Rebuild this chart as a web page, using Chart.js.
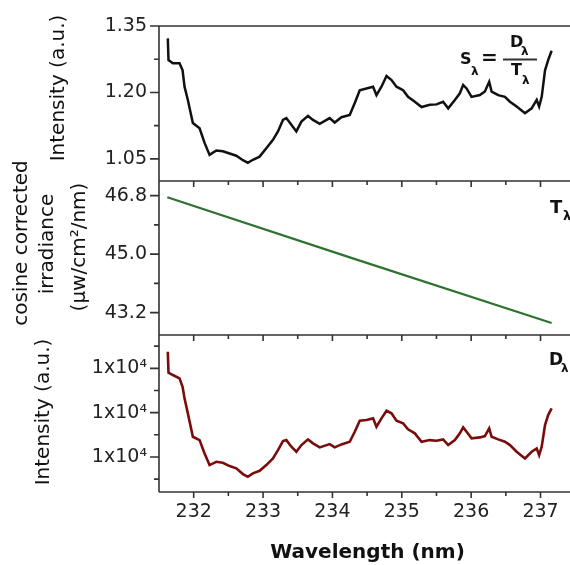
<!DOCTYPE html>
<html>
<head>
<meta charset="utf-8">
<script src="https://cdn.jsdelivr.net/npm/chart.js@4/dist/chart.umd.min.js"></script>
<style>
  html, body { margin: 0; padding: 0; background: #fff; }
  canvas { display: block; }
</style>
</head>
<body>
<canvas id="spectra" width="570" height="565"></canvas>
<script>
// wavelength grid (nm) shared by the ratio and the measured signal
const wavelength = [231.627, 231.637, 231.70, 231.796, 231.84, 231.868, 231.916, 231.988, 232.085, 232.157,
  232.229, 232.326, 232.42, 232.518, 232.614, 232.71, 232.78, 232.854, 232.95, 233.047,
  233.143, 233.215, 233.287, 233.336, 233.408, 233.48, 233.553, 233.648, 233.72, 233.817,
  233.96, 234.033, 234.13, 234.25, 234.322, 234.394, 234.49, 234.586, 234.635, 234.707,
  234.78, 234.852, 234.924, 235.019, 235.09, 235.188, 235.285, 235.405, 235.5, 235.596,
  235.669, 235.765, 235.837, 235.885, 235.934, 236.006, 236.126, 236.198, 236.26, 236.295,
  236.39, 236.487, 236.559, 236.656, 236.776, 236.872, 236.945, 236.98, 237.017, 237.065,
  237.11, 237.16];

// S = D / T  (a.u.)
const ratioS = [1.322, 1.273, 1.266, 1.266, 1.250, 1.213, 1.183, 1.131, 1.119, 1.086,
  1.059, 1.069, 1.067, 1.062, 1.057, 1.047, 1.041, 1.048, 1.055, 1.074,
  1.093, 1.112, 1.138, 1.142, 1.127, 1.112, 1.134, 1.147, 1.138, 1.129,
  1.142, 1.132, 1.144, 1.149, 1.176, 1.205, 1.209, 1.213, 1.194, 1.213,
  1.237, 1.228, 1.213, 1.205, 1.190, 1.179, 1.167, 1.172, 1.173, 1.179,
  1.164, 1.183, 1.198, 1.217, 1.209, 1.190, 1.194, 1.202, 1.224, 1.202,
  1.194, 1.190, 1.179, 1.168, 1.153, 1.164, 1.183, 1.168, 1.190, 1.250,
  1.273, 1.294];

// measured signal D (a.u.)
const signalD = [14375, 13901, 13849, 13774, 13585, 13323, 12984, 12456, 12381, 12081,
  11817, 11892, 11869, 11795, 11743, 11614, 11553, 11630, 11688, 11817,
  11968, 12156, 12360, 12381, 12231, 12118, 12269, 12397, 12307, 12217,
  12291, 12217, 12284, 12343, 12569, 12817, 12833, 12871, 12682, 12871,
  13043, 12984, 12817, 12758, 12623, 12533, 12343, 12381, 12366, 12397,
  12269, 12381, 12533, 12668, 12569, 12420, 12442, 12472, 12646, 12456,
  12397, 12343, 12269, 12118, 11968, 12118, 12194, 12043, 12231, 12720,
  12946, 13097];

// cosine corrected irradiance T (uW/cm2/nm)
const tWavelength = [231.62, 234.25, 237.16];
const irradianceT = [46.75, 44.9, 42.88];

// axis ticks
const xMajor = [232, 233, 234, 235, 236, 237];
const xMinor = [232.5, 233.5, 234.5, 235.5, 236.5];
const sMajor = [1.05, 1.20, 1.35];
const sMinor = [1.125, 1.275];
const tMajor = [43.2, 45.0, 46.8];
const tMinor = [44.1, 45.9];
const dMajor = [12000, 13000, 14000];
const dMinor = [11500, 12500, 13500, 14500];

const FONT = "'DejaVu Sans', sans-serif";
Chart.defaults.font.family = FONT;
Chart.defaults.color = '#222';

const toPoints = (xs, ys) => xs.map((x, i) => ({ x: x, y: ys[i] }));
const setTicks = list => scale => { scale.ticks = list.map(v => ({ value: v })); };

function yAxis(min, max, major, order, share, fmt) {
  return {
    type: 'linear', position: 'left', stack: 'panels', stackWeight: share, weight: order,
    min: min, max: max,
    grid: { display: false, drawTicks: false },
    border: { display: false },
    afterBuildTicks: setTicks(major),
    afterFit: s => { s.width = 159; },
    ticks: { padding: 12, autoSkip: false, font: { size: 19 }, callback: fmt }
  };
}

// frame, panel separators, tick marks and labels
const frame = {
  id: 'frame',
  afterDraw(chart) {
    const { ctx, chartArea: a } = chart;
    const { x, yS, yT, yD } = chart.scales;
    ctx.save();
    ctx.strokeStyle = '#333';
    ctx.lineWidth = 1.6;

    ctx.beginPath();
    ctx.moveTo(a.left, a.top);
    ctx.lineTo(a.left, a.bottom);
    [yS.top, yS.bottom, yT.bottom, yD.bottom].forEach(h => {
      ctx.moveTo(a.left, h);
      ctx.lineTo(a.right, h);
    });
    // x ticks hang below every separator and the bottom axis
    [yS.bottom, yT.bottom, yD.bottom].forEach(h => {
      xMajor.forEach(v => { const px = x.getPixelForValue(v); ctx.moveTo(px, h); ctx.lineTo(px, h + 6); });
      xMinor.forEach(v => { const px = x.getPixelForValue(v); ctx.moveTo(px, h); ctx.lineTo(px, h + 4); });
    });
    [[yS, sMajor, sMinor], [yT, tMajor, tMinor], [yD, dMajor, dMinor]].forEach(([sc, maj, min]) => {
      maj.forEach(v => { const py = sc.getPixelForValue(v); ctx.moveTo(a.left, py); ctx.lineTo(a.left - 9, py); });
      min.forEach(v => { const py = sc.getPixelForValue(v); ctx.moveTo(a.left, py); ctx.lineTo(a.left - 5, py); });
    });
    ctx.stroke();

    ctx.fillStyle = '#111';
    const vtext = (str, bx, cy, font) => {
      ctx.save();
      ctx.translate(bx, cy);
      ctx.rotate(-Math.PI / 2);
      ctx.font = font;
      ctx.textAlign = 'center';
      ctx.textBaseline = 'alphabetic';
      ctx.fillText(str, 0, 0);
      ctx.restore();
    };
    const text = (str, lx, by, font) => {
      ctx.font = font;
      ctx.textAlign = 'left';
      ctx.textBaseline = 'alphabetic';
      ctx.fillText(str, lx, by);
    };
    const reg = '20px ' + FONT;
    vtext('Intensity (a.u.)', 64, yS.top + 62, reg);
    vtext('cosine corrected', 27, yT.top + 62, reg);
    vtext('irradiance', 53, yT.top + 63, reg);
    vtext('(\u00b5w/cm\u00b2/nm)', 85, yT.top + 66, reg);
    vtext('Intensity (a.u.)', 49, yD.top + 77, reg);

    ctx.textAlign = 'center';
    ctx.font = 'bold 20px ' + FONT;
    ctx.fillText('Wavelength (nm)', (a.left + a.right) / 2 + 3, 558);

    // S = D / T
    const b16 = 'bold 16px ' + FONT, b12 = 'bold 12px ' + FONT;
    text('S', 460, yS.top + 37.5, b16);
    text('\u03bb', 471, yS.top + 49, b12);
    text('=', 481, yS.top + 38, 'bold 20px ' + FONT);
    text('D', 510, yS.top + 21, b16);
    text('\u03bb', 521, yS.top + 29, b12);
    text('T', 511, yS.top + 49, b16);
    text('\u03bb', 522, yS.top + 58, b12);
    ctx.lineWidth = 2;
    ctx.beginPath();
    ctx.moveTo(503, yS.top + 33.5);
    ctx.lineTo(537, yS.top + 33.5);
    ctx.stroke();

    text('T', 550, yT.top + 32, 'bold 18px ' + FONT);
    text('\u03bb', 563, yT.top + 39, 'bold 13px ' + FONT);
    text('D', 549, yD.top + 30, 'bold 17px ' + FONT);
    text('\u03bb', 561, yD.top + 37, b12);
    ctx.restore();
  }
};

new Chart(document.getElementById('spectra'), {
  type: 'line',
  data: {
    datasets: [
      { label: 'S', data: toPoints(wavelength, ratioS), yAxisID: 'yS',
        borderColor: '#111', borderWidth: 2.5, pointRadius: 0, tension: 0 },
      { label: 'T', data: toPoints(tWavelength, irradianceT), yAxisID: 'yT',
        borderColor: '#2f722f', borderWidth: 2.2, pointRadius: 0, tension: 0 },
      { label: 'D', data: toPoints(wavelength, signalD), yAxisID: 'yD',
        borderColor: '#7a0c0c', borderWidth: 2.6, pointRadius: 0, tension: 0 }
    ]
  },
  options: {
    responsive: false,
    animation: false,
    layout: { padding: { top: 26, right: 0, bottom: 0, left: 0 } },
    plugins: { legend: { display: false }, tooltip: { enabled: false } },
    scales: {
      x: {
        type: 'linear', position: 'bottom', min: 231.5, max: 237.425,
        grid: { display: false, drawTicks: false },
        border: { display: false },
        afterBuildTicks: setTicks(xMajor),
        afterFit: s => { s.height = 73; },
        ticks: { padding: 9, autoSkip: false, maxRotation: 0, font: { size: 19 }, callback: v => String(v) }
      },
      yS: yAxis(1.0, 1.35, sMajor, 3, 155, v => v.toFixed(2)),
      yT: yAxis(42.51, 47.25, tMajor, 2, 154, v => v.toFixed(1)),
      yD: yAxis(11210, 14752, dMajor, 1, 157, () => '1x10\u2074')
    }
  },
  plugins: [frame]
});
</script>
</body>
</html>
